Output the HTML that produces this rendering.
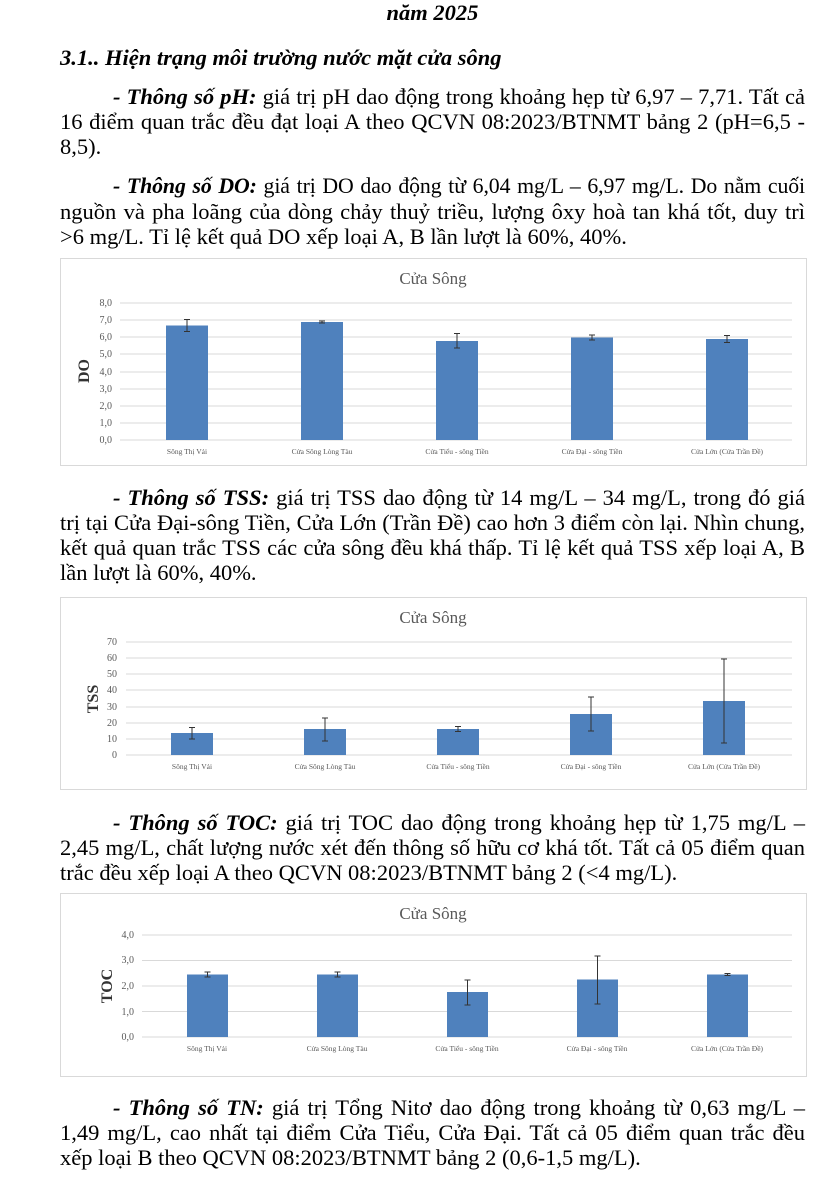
<!DOCTYPE html><html><head><meta charset="utf-8"><style>
body{margin:0;width:818px;height:1200px;background:#fff;position:relative;font-family:"Liberation Serif",serif;color:#000;overflow:hidden}
.l{position:absolute;left:60px;width:745px;font-size:22.5px;line-height:25px;white-space:nowrap}
.j{text-align:justify;text-align-last:justify;white-space:nowrap}
b i,.bi{font-weight:bold;font-style:italic}
.box{position:absolute;left:60px;width:745px;border:1px solid #d9d9d9}
svg text{font-family:"Liberation Serif",serif}
</style></head><body>
<div class="l bi" style="top:0;text-align:center">năm 2025</div>
<div class="l bi" style="top:45px">3.1.. Hiện trạng môi trường nước mặt cửa sông</div>
<div class="l j" style="top:84px;padding-left:53px;width:692px"><b><i>- Thông số pH:</i></b> giá trị pH dao động trong khoảng hẹp từ 6,97 – 7,71. Tất cả</div>
<div class="l j" style="top:109px">16 điểm quan trắc đều đạt loại A theo QCVN 08:2023/BTNMT bảng 2 (pH=6,5 -</div>
<div class="l" style="top:134px">8,5).</div>
<div class="l j" style="top:174px;padding-left:53px;width:692px;font-size:21.8px;letter-spacing:-0.1px"><b><i>- Thông số DO:</i></b> giá trị DO dao động từ 6,04 mg/L – 6,97 mg/L. Do nằm cuối</div>
<div class="l j" style="top:199px">nguồn và pha loãng của dòng chảy thuỷ triều, lượng ôxy hoà tan khá tốt, duy trì</div>
<div class="l" style="top:224px">&gt;6 mg/L. Tỉ lệ kết quả DO xếp loại A, B lần lượt là 60%, 40%.</div>

<div class="box" style="top:258px;height:206px"></div>
<svg style="position:absolute;left:0;top:0" width="818" height="1200">
<g font-size="10" fill="#595959">
<text x="433" y="284" font-size="17" text-anchor="middle">Cửa Sông</text>
<g stroke="#d9d9d9" stroke-width="1">
<line x1="120" x2="792" y1="303" y2="303"/><line x1="120" x2="792" y1="320" y2="320"/><line x1="120" x2="792" y1="337" y2="337"/><line x1="120" x2="792" y1="354" y2="354"/><line x1="120" x2="792" y1="372" y2="372"/><line x1="120" x2="792" y1="389" y2="389"/><line x1="120" x2="792" y1="406" y2="406"/><line x1="120" x2="792" y1="423" y2="423"/><line x1="120" x2="792" y1="440" y2="440"/></g>
<g text-anchor="end"><text x="112" y="306">8,0</text><text x="112" y="323">7,0</text><text x="112" y="340">6,0</text><text x="112" y="357">5,0</text><text x="112" y="375">4,0</text><text x="112" y="392">3,0</text><text x="112" y="409">2,0</text><text x="112" y="426">1,0</text><text x="112" y="443">0,0</text></g>
<text transform="translate(89,371) rotate(-90)" font-size="16" font-weight="bold" fill="#333" text-anchor="middle">DO</text>
<g fill="#4f81bd"><rect x="166" y="325.5" width="42" height="114.5"/><rect x="301" y="322" width="42" height="118"/><rect x="436" y="341" width="42" height="99"/><rect x="571" y="337.5" width="42" height="102.5"/><rect x="706" y="339" width="42" height="101"/></g>
<g stroke="#333" stroke-width="1">
<path d="M187 319.5V331.5M184 319.5H190M184 331.5H190"/><path d="M322 321V323M319 321H325M319 323H325"/><path d="M457 333.5V348M454 333.5H460M454 348H460"/><path d="M592 335V340M589 335H595M589 340H595"/><path d="M727 335.5V342.5M724 335.5H730M724 342.5H730"/></g>
<g font-size="7.5" text-anchor="middle"><text x="187" y="454">Sông Thị Vải</text><text x="322" y="454">Cửa Sông Lòng Tàu</text><text x="457" y="454">Cửa Tiểu - sông Tiền</text><text x="592" y="454">Cửa Đại - sông Tiền</text><text x="727" y="454">Cửa Lớn (Cửa Trần Đề)</text></g>

<text x="433" y="623" font-size="17" text-anchor="middle">Cửa Sông</text>
<g stroke="#d9d9d9"><line x1="126" x2="792" y1="642" y2="642"/><line x1="126" x2="792" y1="658" y2="658"/><line x1="126" x2="792" y1="674" y2="674"/><line x1="126" x2="792" y1="690" y2="690"/><line x1="126" x2="792" y1="707" y2="707"/><line x1="126" x2="792" y1="723" y2="723"/><line x1="126" x2="792" y1="739" y2="739"/><line x1="126" x2="792" y1="755" y2="755"/></g>
<g text-anchor="end"><text x="117" y="645">70</text><text x="117" y="661">60</text><text x="117" y="677">50</text><text x="117" y="693">40</text><text x="117" y="710">30</text><text x="117" y="726">20</text><text x="117" y="742">10</text><text x="117" y="758">0</text></g>
<text transform="translate(98,699) rotate(-90)" font-size="16" font-weight="bold" fill="#333" text-anchor="middle">TSS</text>
<g fill="#4f81bd"><rect x="171" y="733" width="42" height="22"/><rect x="304" y="729" width="42" height="26"/><rect x="437" y="729" width="42" height="26"/><rect x="570" y="714" width="42" height="41"/><rect x="703" y="701" width="42" height="54"/></g>
<g stroke="#333"><path d="M192 727.5V739M189 727.5H195M189 739H195"/><path d="M325 718V741M322 718H328M322 741H328"/><path d="M458 726.5V731.5M455 726.5H461M455 731.5H461"/><path d="M591 697V731M588 697H594M588 731H594"/><path d="M724 659V743M721 659H727M721 743H727"/></g>
<g font-size="7.5" text-anchor="middle"><text x="192" y="769">Sông Thị Vải</text><text x="325" y="769">Cửa Sông Lòng Tàu</text><text x="458" y="769">Cửa Tiểu - sông Tiền</text><text x="591" y="769">Cửa Đại - sông Tiền</text><text x="724" y="769">Cửa Lớn (Cửa Trần Đề)</text></g>

<text x="433" y="919" font-size="17" text-anchor="middle">Cửa Sông</text>
<g stroke="#d9d9d9"><line x1="142" x2="792" y1="935" y2="935"/><line x1="142" x2="792" y1="960.5" y2="960.5"/><line x1="142" x2="792" y1="986" y2="986"/><line x1="142" x2="792" y1="1011.5" y2="1011.5"/><line x1="142" x2="792" y1="1037" y2="1037"/></g>
<g text-anchor="end"><text x="134" y="938">4,0</text><text x="134" y="963">3,0</text><text x="134" y="989">2,0</text><text x="134" y="1015">1,0</text><text x="134" y="1040">0,0</text></g>
<text transform="translate(112,986) rotate(-90)" font-size="16" font-weight="bold" fill="#333" text-anchor="middle">TOC</text>
<g fill="#4f81bd"><rect x="187" y="974.5" width="41" height="62.5"/><rect x="317" y="974.5" width="41" height="62.5"/><rect x="447" y="992" width="41" height="45"/><rect x="577" y="979.5" width="41" height="57.5"/><rect x="707" y="974.5" width="41" height="62.5"/></g>
<g stroke="#333"><path d="M207.5 972V977M204.5 972H210.5M204.5 977H210.5"/><path d="M337.5 972V977M334.5 972H340.5M334.5 977H340.5"/><path d="M467.5 980V1005M464.5 980H470.5M464.5 1005H470.5"/><path d="M597.5 956V1004M594.5 956H600.5M594.5 1004H600.5"/><path d="M727.5 973.5V975.5M724.5 973.5H730.5M724.5 975.5H730.5"/></g>
<g font-size="7.5" text-anchor="middle"><text x="207" y="1051">Sông Thị Vải</text><text x="337" y="1051">Cửa Sông Lòng Tàu</text><text x="467" y="1051">Cửa Tiểu - sông Tiền</text><text x="597" y="1051">Cửa Đại - sông Tiền</text><text x="727" y="1051">Cửa Lớn (Cửa Trần Đề)</text></g>
</g></svg>

<div class="l j" style="top:485px;padding-left:53px;width:692px"><b><i>- Thông số TSS:</i></b> giá trị TSS dao động từ 14 mg/L – 34 mg/L, trong đó giá</div>
<div class="l j" style="top:510px">trị tại Cửa Đại-sông Tiền, Cửa Lớn (Trần Đề) cao hơn 3 điểm còn lại. Nhìn chung,</div>
<div class="l j" style="top:535px">kết quả quan trắc TSS các cửa sông đều khá thấp. Tỉ lệ kết quả TSS xếp loại A, B</div>
<div class="l" style="top:560px">lần lượt là 60%, 40%.</div>
<div class="box" style="top:597px;height:191px"></div>

<div class="l j" style="top:810px;padding-left:53px;width:692px"><b><i>- Thông số TOC:</i></b> giá trị TOC dao động trong khoảng hẹp từ 1,75 mg/L –</div>
<div class="l j" style="top:835px">2,45 mg/L, chất lượng nước xét đến thông số hữu cơ khá tốt. Tất cả 05 điểm quan</div>
<div class="l" style="top:860px">trắc đều xếp loại A theo QCVN 08:2023/BTNMT bảng 2 (&lt;4 mg/L).</div>
<div class="box" style="top:893px;height:182px"></div>

<div class="l j" style="top:1095px;padding-left:53px;width:692px"><b><i>- Thông số TN:</i></b> giá trị Tổng Nitơ dao động trong khoảng từ 0,63 mg/L –</div>
<div class="l j" style="top:1120px">1,49 mg/L, cao nhất tại điểm Cửa Tiểu, Cửa Đại. Tất cả 05 điểm quan trắc đều</div>
<div class="l" style="top:1145px">xếp loại B theo QCVN 08:2023/BTNMT bảng 2 (0,6-1,5 mg/L).</div>
</body></html>
